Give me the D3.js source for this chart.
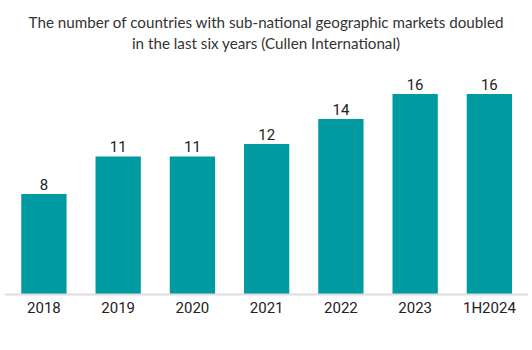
<!DOCTYPE html>
<html lang="en">
<head>
  <meta charset="UTF-8">
  <title>Sub-national geographic markets</title>
  <style>
    body { margin: 0; background: #fff; }
  </style>
</head>
<body>
<script src="https://d3js.org/d3.v7.min.js"></script>
<div id="chart"></div>
<script>
    // data
    const years = ["2018", "2019", "2020", "2021", "2022", "2023", "1H2024"];
    const countries = [8, 11, 11, 12, 14, 16, 16];
    const titleLines = [
      "The number of countries with sub-national geographic markets doubled",
      "in the last six years (Cullen International)"
    ];

    // dimensions
    const W = 532, H = 350;
    const baseY = 294, topY = 94;

    const svg = d3.select("#chart")
      .append("svg")
        .attr("width", W)
        .attr("height", H);

    // title
    svg.append("g")
      .selectAll("text")
      .data(titleLines)
      .join("text")
        .attr("x", W / 2)
        .attr("y", (d, i) => 28 + i * 21)
        .attr("text-anchor", "middle")
        .attr("font-family", "Lato, sans-serif")
        .attr("font-size", 15.2)
        .attr("font-weight", 400)
        .attr("fill", "#333")
        .text(d => d);

    // scales
    const x = d3.scaleBand()
      .domain(years)
      .range([6.8, 526.5])
      .paddingInner(0.39)
      .paddingOuter(0.195);

    const y = d3.scaleLinear()
      .domain([0, 16])
      .range([baseY, topY]);

    // bars
    svg.append("g")
      .selectAll("rect")
      .data(countries)
      .join("rect")
        .attr("x", (d, i) => x(years[i]))
        .attr("y", d => y(d))
        .attr("width", x.bandwidth())
        .attr("height", d => y(0) - y(d))
        .attr("fill", "#009aa1");

    // value labels
    svg.append("g")
      .selectAll("text")
      .data(countries)
      .join("text")
        .attr("x", (d, i) => x(years[i]) + x.bandwidth() / 2)
        .attr("y", d => y(d) - 4.5)
        .attr("text-anchor", "middle")
        .attr("font-family", "Roboto, sans-serif")
        .attr("font-size", 15)
        .attr("fill", "#222")
        .text(d => d);

    // x axis
    const xAxis = svg.append("g")
      .attr("transform", `translate(0,${baseY})`)
      .call(d3.axisBottom(x).tickSize(0).tickPadding(8));
    xAxis.attr("font-family", "Roboto, sans-serif");
    xAxis.select(".domain")
      .attr("d", "M5,0.5H528")
      .attr("stroke", "#dddddd")
      .attr("stroke-width", 2);
    xAxis.selectAll("text")
      .attr("font-family", "Roboto, sans-serif")
      .attr("font-size", 15)
      .attr("fill", "#222")
      .attr("dy", "0.71em");
</script>
</body>
</html>
